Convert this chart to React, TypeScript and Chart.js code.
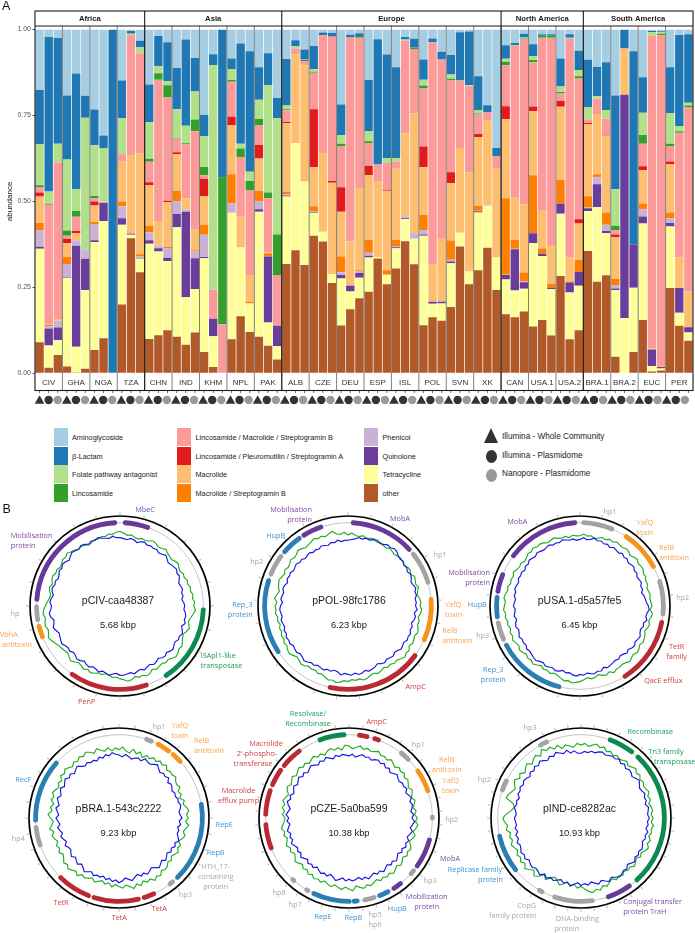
import React, { useEffect, useRef } from "react";
import { Chart, registerables } from "chart.js";
Chart.register(...registerables);

const SANS = '"Liberation Sans", Arial, sans-serif';
const LABEL_FONT = '"Open Sans", sans-serif';

const continents = ["Africa", "Asia", "Europe", "North America", "South America"];
const continentCountryCounts = [4, 5, 8, 3, 4];
const countries = ["CIV","GHA","NGA","TZA","CHN","IND","KHM","NPL","PAK","ALB","CZE","DEU","ESP","ISL","POL","SVN","XK","CAN","USA.1","USA.2","BRA.1","BRA.2","EUC","PER"];
const sequencingPerCountry = ["Illumina - Whole Community", "Illumina - Plasmidome", "Nanopore - Plasmidome"];
const barLabels = countries.flatMap((c) => [c, c, c]);

const other = [.09,.016,.053,.02,.002,.013,.068,.102,0,.2,.393,.294,.1,.111,.125,.106,.083,.119,.062,.018,0,.099,.166,.12,.106,.08,.04,.318,.358,.315,.4,.383,.263,.139,.186,.218,.237,.334,.259,.305,.384,.317,.14,.163,.153,.193,.369,.259,.3,.365,.242,.172,.163,.18,.136,.155,.11,.283,.099,.125,.356,.266,.285,.048,0,.062,.155,.005,.008,.248,.138,.095];
const tetracycline = [.272,.065,.043,.258,.075,.229,.314,.341,0,.232,.01,.039,.277,.243,.202,.319,.138,.126,.273,.09,0,.368,.2,.083,.364,.068,.039,.196,.311,.243,.066,.029,.025,.137,.052,.06,.1,.004,.028,.059,.065,.074,.26,.039,.05,.127,.04,.037,.168,.122,.095,.101,.078,.066,.242,.186,.135,.181,.136,.13,.116,.218,.122,.194,.161,.187,.281,.016,.006,.179,.038,.024];
const quinolone = [.006,.049,.037,.002,.294,.091,.005,.052,0,.019,.003,.002,.01,.01,.009,.038,.249,.09,.003,.051,0,0,0,0,.007,.192,.059,.003,0,0,.002,0,0,.01,.017,.014,.005,0,0,.003,.002,0,.004,.006,.005,.005,0,0,.003,0,0,.013,.12,.019,.029,.007,.004,.029,.029,.04,.008,.066,.007,.005,.649,.126,.02,.048,.004,.01,.072,.015];
const phenicol = [.048,.007,.02,.038,.016,.025,.046,.005,0,.035,.002,.005,.023,.008,.028,.038,.006,.019,.065,0,0,.027,0,0,.023,0,0,.004,0,0,.004,0,.001,.008,.002,.004,.009,0,0,.003,.006,.016,.012,0,.002,.005,0,0,.002,.003,0,.001,.001,.002,.001,0,0,0,0,0,.002,.02,.018,.01,0,0,.021,0,0,.014,0,0];
const macrolideStrepB = [.021,.004,0,.02,0,0,.007,0,0,.014,0,.006,.019,0,.004,.029,0,.004,.029,0,0,.085,0,.005,.03,.009,0,.006,0,0,.014,0,0,.046,0,.004,.037,0,.013,.018,0,0,.045,0,0,.056,0,0,.014,0,0,.222,.026,.026,.168,.015,.011,.069,.003,.035,.033,.009,.036,.017,0,0,.017,0,0,.017,0,0];
const macrolide = [.077,.002,.005,.04,.021,0,.048,0,0,.115,.227,.294,.118,.071,.13,.107,.033,.062,.084,0,0,.143,.09,.078,.095,.003,0,.201,.259,.338,.113,.229,.265,.13,.126,.239,.189,.221,.231,.207,.241,.349,.138,.109,.181,.167,.246,.289,.2,.245,.26,.23,.125,.199,.187,.112,.113,.213,.07,.106,.21,.175,.224,.122,.135,0,.097,.004,.003,.141,.089,.104];
const lincPleuroStrepA = [.012,0,0,.013,.006,0,.012,0,0,0,0,0,.009,0,.004,.006,0,0,.05,0,0,.024,0,0,.039,0,0,.003,0,0,.169,0,.005,.071,0,0,.027,0,.003,0,0,0,.061,0,0,.032,0,0,.009,0,0,.038,0,0,.013,0,0,.017,0,.012,.003,0,.002,.008,0,0,.011,0,0,.007,0,0];
const lincMacStrepB = [.016,.347,.455,.009,.041,0,.009,0,0,.022,.35,.29,.059,.411,.3,.039,.157,.284,.01,.084,.143,.102,.173,.246,.058,.157,.148,.034,.016,.012,.106,.342,.42,.12,.594,.437,.066,.048,.078,.021,.269,.187,.17,.646,.522,.268,.195,.25,.057,.025,.034,.119,.439,.479,.129,.501,.603,.022,.637,.411,.01,.045,.047,.013,0,0,.066,.909,.962,.045,.363,.535];
const lincosamide = [.005,.003,0,.015,.017,0,.007,0,0,0,0,0,.009,.019,.036,.002,.003,.034,.024,0,.427,.005,.025,.027,.018,.017,.118,.003,0,.004,.003,0,.001,.007,0,.005,.005,0,0,0,0,.005,.007,0,0,.004,0,0,.003,0,0,.01,0,.003,.006,.006,.006,.004,0,.005,0,0,0,.012,0,0,.025,0,.005,.007,.004,.006];
const folate = [.119,.036,.055,.207,.064,.385,.147,.154,0,.105,.003,.019,.106,.021,.012,.084,.051,.082,.09,.653,0,.032,.014,.027,.056,.312,.338,.011,.007,.001,.008,0,0,.025,0,0,.03,0,.014,.01,.004,0,.017,0,0,.012,.002,.003,.01,0,0,.009,.003,.003,.012,0,0,.016,.002,.018,.036,.007,.025,.106,0,0,.065,.01,.005,.089,.015,.008];
const betaLactam = [.158,.449,.307,.186,.336,.064,.104,.038,1,.11,.008,.018,.11,.087,.113,.12,.251,.097,.062,.032,.43,.031,.291,.351,.094,.093,.059,.135,.018,.029,.067,.008,.01,.089,.008,.008,.148,.365,.301,.264,.007,.025,.059,.011,.022,.057,.14,.156,.098,.02,.024,.039,.006,.011,.034,.004,.004,.082,.01,.056,.138,.085,.139,.273,.055,.562,.103,.004,.002,.133,.265,.199];
const aminoglycoside = [.177,.023,.025,.192,.128,.193,.234,.308,0,.148,.004,.033,.16,.019,.037,.112,.029,.083,.248,.072,0,.084,.041,.063,.11,.069,.199,.086,.031,.058,.048,.009,.01,.218,.015,.011,.147,.028,.073,.11,.022,.027,.087,.026,.065,.074,.008,.006,.136,.22,.345,.046,.039,.012,.043,.014,.014,.083,.014,.062,.088,.109,.095,.192,0,.063,.139,.004,.005,.11,.016,.014];

const stackOrder = [
  ["other", other, "#b15928"],
  ["Tetracycline", tetracycline, "#ffff99"],
  ["Quinolone", quinolone, "#6a3d9a"],
  ["Phenicol", phenicol, "#cab2d6"],
  ["Macrolide / Streptogramin B", macrolideStrepB, "#ff7f00"],
  ["Macrolide", macrolide, "#fdbf6f"],
  ["Lincosamide / Pleuromutilin / Streptogramin A", lincPleuroStrepA, "#e31a1c"],
  ["Lincosamide / Macrolide / Streptogramin B", lincMacStrepB, "#fb9a99"],
  ["Lincosamide", lincosamide, "#33a02c"],
  ["Folate pathway antagonist", folate, "#b2df8a"],
  ["β-Lactam", betaLactam, "#1f78b4"],
  ["Aminoglycoside", aminoglycoside, "#a6cee3"],
] as [string, number[], string][];

const colorOf = (n: string) => stackOrder.find((s) => s[0] === n)![2];
const legendColumns = [
  ["Aminoglycoside", "β-Lactam", "Folate pathway antagonist", "Lincosamide"],
  ["Lincosamide / Macrolide / Streptogramin B", "Lincosamide / Pleuromutilin / Streptogramin A", "Macrolide", "Macrolide / Streptogramin B"],
  ["Phenicol", "Quinolone", "Tetracycline", "other"],
];

// --- plasmids: gene extents in degrees clockwise from 12 o'clock, coverage rings in % of outer ring radius (one value per 3 degrees)
const cIVGenes = [[2,21],[91,148],[160,216.6],[246.8,257.4],[259,271],[273,358]];
const cIVKinds = ["mob","tn","res","ta","hp","mob"];
const cIVGreen = [83,81,79,80,78,77,79,78,79,81,80,78,79,81,79,78,77,79,80,78,77,79,78,80,79,81,80,82,81,83,82,84,82,80,78,79,81,79,77,78,80,82,81,83,84,82,80,81,79,80,81,79,82,83,81,82,80,83,84,82,81,79,80,78,77,79,78,80,81,79,81,79,78,80,82,80,78,79,80,81,83,85,87,85,84,86,85,84,86,85,83,81,79,78,80,81,79,81,82,80,81,79,80,82,81,83,81,80,78,79,78,76,77,79,78,80,79,81,80,82];
const cIVBlue = [76,75,74,76,75,73,75,76,74,75,74,75,73,74,76,74,72,73,74,75,73,74,72,70,71,72,70,71,69,71,72,71,73,74,73,75,72,74,76,74,75,73,74,76,75,73,75,74,72,74,75,73,74,76,74,75,77,75,76,77,77,75,76,78,76,75,77,75,74,76,75,73,75,76,74,73,75,74,75,77,76,75,74,76,78,76,75,78,79,77,76,78,77,75,77,78,76,77,75,76,78,77,79,78,76,78,80,79,78,80,79,77,79,78,80,78,77,76,78,76];

const pOLGenes = [[2,48.8],[50,75],[83.8,115.5],[125,194],[235.3,289.3],[291,308],[309,325.8],[326.5,342.6]];
const pOLKinds = ["mob","hp","ta","res","rep","hp","rep","mob"];
const pOLGreen = [79,81,79,78,80,78,79,80,78,79,78,77,79,78,77,78,79,78,77,79,80,78,81,80,79,81,79,78,80,81,80,82,81,79,81,80,82,83,81,82,83,81,84,83,85,83,81,82,80,81,79,81,82,80,81,83,84,82,83,82,84,83,85,86,84,85,83,81,82,80,81,80,82,83,81,80,82,84,83,81,82,80,81,79,80,78,80,79,81,80,81,79,82,80,78,80,81,82,80,79,81,79,80,82,80,81,83,82,80,81,82,84,82,83,81,83,85,81,80,82];
const pOLBlue = [73,74,75,77,76,78,77,79,80,78,79,81,80,82,81,79,78,79,77,78,76,78,77,75,76,78,76,77,75,76,75,77,74,76,75,73,75,74,76,75,76,74,75,76,74,73,75,74,73,75,74,72,74,75,76,74,76,77,75,77,76,75,77,74,73,75,74,76,75,74,76,75,77,78,76,75,77,76,75,77,76,77,75,76,74,75,76,74,75,76,75,73,75,74,73,75,74,72,74,73,74,72,73,74,72,73,71,72,73,71,72,71,73,72,71,73,72,74,72,73];

const uSAGenes = [[1,24],[32,63.3],[71.3,97],[99.8,149],[193,243.5],[245,259.8],[261,277.6],[278.5,293.6],[305.5,358]];
const uSAKinds = ["hp","ta","hp","res","rep","hp","rep","mob","mob"];
const uSAGreen = [78,80,78,79,77,78,80,79,81,80,82,81,80,82,81,79,81,82,80,81,81,79,80,78,79,77,78,79,78,79,80,78,81,80,78,80,79,77,79,80,81,79,81,82,80,81,83,81,80,81,81,83,80,82,81,79,81,82,80,82,84,85,86,84,85,83,81,80,82,80,81,79,81,83,81,82,80,82,83,81,82,84,82,83,81,83,82,84,83,85,84,83,85,84,82,83,81,82,81,83,81,80,81,79,80,82,81,83,81,82,81,79,80,81,79,78,79,77,79,78];
const uSABlue = [74,76,74,75,77,75,76,74,75,73,75,74,73,75,73,74,72,73,74,72,73,71,72,73,71,72,70,72,73,74,76,77,75,74,76,73,74,72,73,75,74,73,75,74,72,74,72,71,73,72,73,74,75,73,76,75,77,76,75,77,76,78,77,75,76,74,76,77,75,76,77,75,76,78,77,76,75,76,74,75,74,76,74,73,75,74,72,74,73,72,74,73,72,74,73,75,74,73,75,74,75,73,75,74,76,75,74,76,75,74,75,76,74,75,74,76,75,74,75,73];

const bRAGenes = [[17.8,24.3],[26.4,38],[39,48.8],[79,137],[138.5,143.8],[153.8,164],[165,199],[199.8,226],[249.5,265],[267,312.8]];
const bRAKinds = ["hp","ta","ta","rep","hp","res","res","res","hp","rep"];
const bRAGreen = [76,79,75,73,78,74,77,72,76,74,77,75,78,76,79,75,77,76,78,75,74,76,72,74,71,75,73,76,78,75,77,74,78,75,73,76,74,71,75,73,76,74,72,75,73,76,77,75,79,77,80,76,78,75,79,76,80,77,75,78,76,74,77,73,75,72,74,76,73,75,77,75,79,76,78,80,77,79,76,74,77,74,76,73,75,77,74,78,75,73,76,79,75,77,74,78,76,79,77,75,78,76,80,78,81,79,77,80,78,81,79,82,80,77,81,78,76,79,75,78];
const bRABlue = [70,68,71,69,67,69,70,68,72,70,69,71,73,70,68,70,69,71,67,69,68,66,68,67,69,68,70,69,67,68,70,67,69,66,68,67,69,71,68,70,67,69,66,68,70,67,69,71,68,66,68,70,67,69,66,68,71,69,67,70,72,69,71,68,70,67,69,68,70,67,69,71,68,66,69,67,65,68,66,64,65,67,64,66,68,65,67,69,66,68,70,67,69,71,68,70,72,69,71,73,70,72,74,71,73,70,72,74,71,69,71,69,70,68,71,69,72,70,73,71];

const cZEGenes = [[5.6,14],[16.4,22.3],[37.4,46.9],[54,72.5],[87.8,91.6],[103.7,126.7],[127.7,133.4],[140.3,149],[150.6,160],[161,170.5],[172.8,178],[178.2,206.5],[208,212],[219.8,224],[247.4,267],[271,290.7],[292,306.5],[307.5,325],[338,358.2]];
const cZEKinds = ["res","res","hp","ta","hp","mob","hp","mob","rep","hp","rep","rep","hp","hp","res","res","res","res","tn"];
const cZEGreen = [80,77,79,81,78,80,78,79,81,78,79,77,80,78,76,79,77,79,76,78,76,74,77,75,73,76,74,72,75,73,76,74,77,75,73,76,74,72,75,77,75,77,74,76,78,75,77,79,76,78,76,78,75,77,79,77,80,78,76,81,79,77,80,78,76,79,77,75,78,76,78,75,77,74,76,73,75,77,74,72,75,73,76,74,72,75,73,76,74,72,71,74,72,75,73,76,74,72,75,77,74,76,78,75,77,79,76,78,75,77,79,76,78,75,78,80,77,79,76,81];
const cZEBlue = [69,71,68,70,72,70,71,69,71,72,70,72,69,71,68,70,72,70,69,71,70,72,69,71,73,70,72,71,69,72,70,73,71,69,72,70,68,71,69,71,68,70,67,69,71,68,70,67,69,71,68,70,67,69,71,68,70,67,69,70,68,70,67,69,71,68,66,69,67,69,67,65,68,66,68,65,67,69,66,68,66,68,70,67,69,67,70,68,66,69,67,70,68,66,69,71,68,70,67,69,71,68,70,72,69,71,68,70,72,70,68,71,69,72,70,68,71,69,71,70];

const iNDGenes = [[18.9,39],[41.5,139.5],[143,162.4],[170.7,200],[206.3,211.5],[230,259],[288,297.9],[329.4,337.3]];
const iNDKinds = ["tn","tn","mob","hp","hp","rep","hp","hp"];
const iNDGreen = [81,83,80,82,84,81,83,79,81,78,80,78,79,81,78,80,82,79,81,78,80,78,79,81,78,80,77,79,80,78,80,78,81,79,80,78,81,79,82,80,77,79,76,78,80,77,78,76,79,77,79,76,78,81,79,83,81,84,82,79,76,78,74,77,73,76,78,74,72,75,79,75,80,83,78,81,84,80,83,80,82,79,81,83,80,82,80,84,82,85,87,83,78,75,77,86,85,82,80,83,85,81,84,80,83,85,81,84,86,82,88,84,86,82,85,80,83,81,79,83];
const iNDBlue = [72,74,73,75,74,76,77,75,76,77,76,78,75,77,74,76,75,73,75,77,75,73,74,76,74,75,73,76,75,74,76,74,75,73,76,74,75,73,75,76,74,76,74,77,75,73,76,75,77,78,76,74,77,75,73,76,74,72,75,73,75,72,74,76,73,75,72,74,76,74,77,74,78,76,75,77,76,74,77,75,77,75,74,76,73,75,72,74,72,73,74,72,73,75,73,74,72,75,74,76,74,76,75,73,76,74,77,75,78,76,74,77,75,78,76,74,77,73,75,72];

const arcColor: Record<string, string> = { mob: "#68389a", tn: "#0d8a50", res: "#bb2a33", ta: "#f7941d", hp: "#a3a3a3", rep: "#2b7eb4" };
const textColor: Record<string, string> = { mob: "#7b4aa6", tn: "#17a05c", res: "#d03c40", ta: "#f9a24c", hp: "#a8a8a8", rep: "#3f93d2" };

const plasmids = [
  { name: "pCIV-caa48387", size: "5.68 kbp", genes: cIVGenes, kinds: cIVKinds, green: cIVGreen, blue: cIVBlue, cx: 119.7, cy: 606, ticks: 24, tx: 118, ty: 599.5, sy: 623.5 },
  { name: "pPOL-98fc1786", size: "6.23 kbp", genes: pOLGenes, kinds: pOLKinds, green: pOLGreen, blue: pOLBlue, cx: 348.3, cy: 606, ticks: 25, tx: 349, ty: 599.5, sy: 623.5 },
  { name: "pUSA.1-d5a57fe5", size: "6.45 kbp", genes: uSAGenes, kinds: uSAKinds, green: uSAGreen, blue: uSABlue, cx: 580.3, cy: 606.3, ticks: 26, tx: 579.5, ty: 599.5, sy: 623.5 },
  { name: "pBRA.1-543c2222", size: "9.23 kbp", genes: bRAGenes, kinds: bRAKinds, green: bRAGreen, blue: bRABlue, cx: 119.2, cy: 818.3, ticks: 36, tx: 118.5, ty: 808, sy: 832 },
  { name: "pCZE-5a0ba599", size: "10.38 kbp", genes: cZEGenes, kinds: cZEKinds, green: cZEGreen, blue: cZEBlue, cx: 349.3, cy: 818.3, ticks: 42, tx: 349, ty: 808, sy: 832 },
  { name: "pIND-ce8282ac", size: "10.93 kbp", genes: iNDGenes, kinds: iNDKinds, green: iNDGreen, blue: iNDBlue, cx: 580.7, cy: 818.3, ticks: 44, tx: 579.5, ty: 808, sy: 832 },
];

type Ann = [string, string, number, number, ("l" | "c" | "r")?];
const annotations: Ann[] = [
  ["MbeC","mob",145,509.3],["Mobilisation\nprotein","mob",10.7,539.7,"l"],["hp","hp",15,613],["VbhA\n antitoxin","ta",0,638.7,"l"],["ISApl1-like\ntransposase","tn",200.7,659.7,"l"],["PenP","res",86.7,701],
  ["Mobilisation\nprotein","mob",312,514,"r"],["MobA","mob",400,518.3],["hp1","hp",440,554],["HupB","rep",275.7,534.7],["hp2","hp",256.7,561],["Rep_3\nprotein","rep",252.7,609,"r"],["YafQ\ntoxin","ta",445,609,"l"],["RelB\nantitoxin","ta",442.3,635,"l"],["AmpC","res",415.7,686],
  ["hp1","hp",610,510.7],["MobA","mob",517.3,521.3],["YafQ\ntoxin","ta",645,527],["RelB\nantitoxin","ta",659,552.3,"l"],["hp2","hp",682.7,596.7],["Mobilisation\nprotein","mob",490,577,"r"],["HupB","rep",477.3,603.7],["hp3","hp",482.7,635],["TetR\nfamily","res",676.7,651.3],["Rep_3\nprotein","rep",493.3,673.7],["QacE efflux","res",663.3,680],
  ["hp1","hp",159,725.7],["YafQ\ntoxin","ta",180,730.3],["RelB\nantitoxin","ta",194,745.3,"l"],["RecF","rep",23.3,779.3],["RepE","rep",224.3,824],["RepB","rep",215.7,852.3],["HTH_17-\ncontaining\nprotein","hp",215.7,876.3],["hp4","hp",18.3,838.3],["hp3","hp",185.3,894.3],["TetR","res",61,902.3],["TetA","res",159.3,907.7],["TetA","res",119.3,917],
  ["Resolvase/\nRecombinase","tn",308,718],["AmpC","res",376.7,721],["hp1","hp",418.3,744.3],["RelB\nantitoxin","ta",446.7,764.3],["YafQ\ntoxin","ta",450.7,785.3],["hp2","hp",451.7,819],["MobA","mob",450,858.3],["hp3","hp",430,880],["Mobilization\nprotein","mob",426.7,901],["HupB","rep",397.3,907.7],["hp5\nhp6","hp",375,919],["RepB","rep",353.3,917],["RepE","rep",323,916],["hp7","hp",295,904],["hp8","hp",279,891.7],["Macrolide","res",266,742.7],["2'-phospho-","res",257,752.7],["transferase","res",253,762.7],["Macrolide\nefflux pump","res",238.5,795],
  ["hp3","hp",530,727.3],["Recombinase","tn",650.3,731],["Tn3 family","tn",666,750.7],["transposase","tn",674.7,760.7],["hp2","hp",484.3,779.3],["Replicase family","rep",475,869],["protein","rep",490.5,879],["CopG","hp",526.7,905.3],["family protein","hp",512.7,915.3],["DNA-binding","hp",577.3,917.7],["protein","hp",566.7,927.7],["Conjugal transfer\nprotein TraH","mob",623.3,906.4,"l"],
];

const facetPlugin = {
  id: "facets",
  afterDatasetsDraw(chart: any) {
    const { ctx, scales } = chart;
    const x = scales.x;
    const top = 11, stripBottom = 26, bottom = 390.5;
    const step = x.getPixelForValue(1) - x.getPixelForValue(0);
    const edge = (barIndex: number) => x.getPixelForValue(0) - step / 2 + step * barIndex;
    ctx.save();
    ctx.fillStyle = "#fff";
    ctx.fillRect(edge(0), top, edge(72) - edge(0), stripBottom - top);
    ctx.strokeStyle = "#333";
    ctx.lineWidth = 0.7;
    barLabels.forEach((_, i) => {
      const p = x.getPixelForValue(i);
      ctx.beginPath(); ctx.moveTo(p, bottom); ctx.lineTo(p, bottom + 2.5); ctx.stroke();
    });
    ctx.strokeStyle = "#808080";
    ctx.lineWidth = 1;
    countries.forEach((_, i) => {
      if (i === 0) return;
      const p = edge(i * 3);
      ctx.beginPath(); ctx.moveTo(p, stripBottom); ctx.lineTo(p, bottom); ctx.stroke();
    });
    ctx.strokeStyle = "#1a1a1a";
    ctx.lineWidth = 1.1;
    ctx.strokeRect(edge(0), top, edge(72) - edge(0), bottom - top);
    ctx.beginPath(); ctx.moveTo(edge(0), stripBottom); ctx.lineTo(edge(72), stripBottom); ctx.stroke();
    let c = 0;
    ctx.font = `bold 7.7px ${SANS}`;
    ctx.textAlign = "center";
    ctx.textBaseline = "middle";
    continents.forEach((name, i) => {
      const next = c + continentCountryCounts[i];
      const l = edge(c * 3), r = edge(next * 3);
      ctx.fillStyle = "#1a1a1a";
      ctx.fillText(name, (l + r) / 2, (top + stripBottom) / 2 + 0.5);
      if (i > 0) { ctx.beginPath(); ctx.moveTo(l, top); ctx.lineTo(l, bottom); ctx.stroke(); }
      c = next;
    });
    ctx.restore();
  },
};

function BarPanel() {
  const ref = useRef<HTMLCanvasElement>(null);
  useEffect(() => {
    const chart = new Chart(ref.current!, {
      type: "bar",
      data: {
        labels: barLabels,
        datasets: stackOrder.map(([label, data, color]) => ({ label, data, backgroundColor: color, borderWidth: 0, barPercentage: 0.92, categoryPercentage: 1 })),
      },
      options: {
        animation: false, responsive: false,
        layout: { padding: { top: 29.5, right: 2, left: 0, bottom: 0 } },
        plugins: { legend: { display: false }, tooltip: { enabled: false } },
        scales: {
          x: {
            stacked: true,
            grid: { display: false, drawTicks: false },
            border: { display: false },
            afterFit: (s: any) => { s.height = 46.7; },
            ticks: {
              autoSkip: false, maxRotation: 0, minRotation: 0, padding: 5,
              font: { family: SANS, size: 8 }, color: "#333",
              callback: (_v: any, i: number) => (i % 3 === 1 ? barLabels[i] : ""),
            },
          },
          y: {
            stacked: true, min: 0, max: 1,
            afterFit: (s: any) => { s.width = 35; },
            border: { display: false },
            grid: { drawOnChartArea: false, drawTicks: true, tickLength: 2.5, color: "#555" },
            title: { display: true, text: "abundance", font: { family: SANS, size: 8 }, color: "#111", padding: { top: 5, bottom: 0 } },
            ticks: { stepSize: 0.25, padding: 1.5, font: { family: SANS, size: 7 }, color: "#555", callback: (v: any) => Number(v).toFixed(2) },
          },
        },
      },
      plugins: [facetPlugin],
    } as any);
    return () => chart.destroy();
  }, []);
  return <canvas ref={ref} width={695} height={420} style={{ position: "absolute", left: 0, top: 0 }} />;
}

function MarkerRow() {
  const ref = useRef<HTMLCanvasElement>(null);
  useEffect(() => {
    const row = (k: number, v: number) => barLabels.map((_, i) => (i % 3 === k ? v : null));
    const chart = new Chart(ref.current!, {
      type: "line",
      data: {
        labels: barLabels,
        datasets: [
          { label: sequencingPerCountry[0], data: row(0, 0.6), showLine: false, pointStyle: "triangle", pointRadius: 5.6, backgroundColor: "#333", borderWidth: 0 },
          { label: sequencingPerCountry[1], data: row(1, 0.5), showLine: false, pointStyle: "circle", pointRadius: 4.2, backgroundColor: "#333", borderWidth: 0 },
          { label: sequencingPerCountry[2], data: row(2, 0.5), showLine: false, pointStyle: "circle", pointRadius: 4.2, backgroundColor: "#999", borderWidth: 0 },
        ],
      },
      options: {
        animation: false, responsive: false,
        layout: { padding: { left: 35, right: 2, top: 0, bottom: 0 } },
        plugins: { legend: { display: false }, tooltip: { enabled: false } },
        scales: { x: { display: false, offset: true }, y: { display: false, min: 0, max: 1, reverse: true } },
      },
    } as any);
    return () => chart.destroy();
  }, []);
  return <canvas ref={ref} width={695} height={20} style={{ position: "absolute", left: 0, top: 390 }} />;
}

function Plasmid({ p }: { p: (typeof plasmids)[number] }) {
  const arcs = useRef<HTMLCanvasElement>(null);
  const rings = useRef<HTMLCanvasElement>(null);
  useEffect(() => {
    const spans: number[] = [];
    const fills: string[] = [];
    let pos = 0;
    p.genes.forEach(([s, e], i) => {
      spans.push(s - pos, e - s);
      fills.push("rgba(0,0,0,0)", arcColor[p.kinds[i]]);
      pos = e;
    });
    spans.push(360 - pos);
    fills.push("rgba(0,0,0,0)");
    const doughnut = new Chart(arcs.current!, {
      type: "doughnut",
      data: { labels: spans.map((_, i) => String(i)), datasets: [{ data: spans, backgroundColor: fills, borderWidth: 0, borderRadius: 2 }] },
      options: {
        animation: false, responsive: false, radius: 85.8, cutout: "94.4%",
        plugins: { legend: { display: false }, tooltip: { enabled: false } },
      },
    } as any);
    const tickPlugin = {
      id: "ringTicks",
      afterDatasetsDraw(chart: any) {
        const r = chart.scales.r;
        const { ctx } = chart;
        ctx.save();
        for (let i = 0; i < p.ticks; i++) {
          const a = (i / p.ticks) * Math.PI * 2;
          const s = Math.sin(a), c = Math.cos(a);
          ctx.strokeStyle = "#888";
          ctx.lineWidth = 0.6;
          ctx.beginPath();
          ctx.moveTo(r.xCenter + s * r.drawingArea, r.yCenter - c * r.drawingArea);
          ctx.lineTo(r.xCenter + s * (r.drawingArea + 2.4), r.yCenter - c * (r.drawingArea + 2.4));
          ctx.stroke();
          ctx.strokeStyle = "#c6c6c6";
          ctx.lineWidth = 1.5;
          ctx.beginPath();
          ctx.moveTo(r.xCenter + s * (r.drawingArea + 2.4), r.yCenter - c * (r.drawingArea + 2.4));
          ctx.lineTo(r.xCenter + s * (r.drawingArea + 3.8), r.yCenter - c * (r.drawingArea + 3.8));
          ctx.stroke();
        }
        ctx.restore();
      },
    };
    const radar = new Chart(rings.current!, {
      type: "radar",
      data: {
        labels: p.green.map((_, i) => String(i * 3)),
        datasets: [
          { label: "blue", data: p.blue, borderColor: "#1616e4", borderWidth: 1.15, pointRadius: 0, fill: false, tension: 0 },
          { label: "green", data: p.green, borderColor: "#20ae20", borderWidth: 1.15, pointRadius: 0, fill: false, tension: 0 },
        ],
      },
      options: {
        animation: false, responsive: false,
        layout: { padding: 10 },
        plugins: { legend: { display: false }, tooltip: { enabled: false } },
        scales: {
          r: {
            min: 0, max: 100,
            angleLines: { display: false },
            pointLabels: { display: false },
            ticks: { display: false },
            afterBuildTicks: (s: any) => { s.ticks = [{ value: 0 }, { value: 92.6 }, { value: 100 }]; },
            grid: {
              circular: true,
              color: (c: any) => (c.tick && c.tick.value === 100 ? "#000" : "#bdbdbd"),
              lineWidth: (c: any) => (c.tick && c.tick.value === 100 ? 1.7 : 0.9),
            },
          },
        },
      },
      plugins: [tickPlugin],
    } as any);
    return () => { doughnut.destroy(); radar.destroy(); };
  }, []);
  const style: React.CSSProperties = { position: "absolute", left: p.cx - 100, top: p.cy - 100 };
  const center = (text: string, x: number, y: number, size: number): React.ReactElement => (
    <div style={{ position: "absolute", left: x, top: y, transform: "translate(-50%,-50%)", font: `${size}px ${SANS}`, color: "#222", whiteSpace: "nowrap" }}>{text}</div>
  );
  return (
    <>
      <canvas ref={rings} width={200} height={200} style={style} />
      <canvas ref={arcs} width={200} height={200} style={style} />
      {center(p.name, p.tx, p.ty, 10.5)}
      {center(p.size, p.tx, p.sy, 9.4)}
    </>
  );
}

function Legend() {
  const columnX = [54, 177, 364];
  const textX = [72, 195.5, 382.5];
  const rowY = [428, 446.7, 465.4, 484.1];
  const seqY = [436, 454.5, 473];
  return (
    <>
      {legendColumns.map((col, c) =>
        col.map((name, r) => (
          <React.Fragment key={name}>
            <div style={{ position: "absolute", left: columnX[c], top: rowY[r], width: 13.5, height: 18, background: colorOf(name) }} />
            <div style={{ position: "absolute", left: textX[c], top: rowY[r] + 9, transform: "translateY(-50%)", font: `7.3px ${SANS}`, color: "#222", whiteSpace: "nowrap" }}>{name}</div>
          </React.Fragment>
        ))
      )}
      {sequencingPerCountry.map((name, i) => (
        <React.Fragment key={name}>
          {i === 0 ? (
            <div style={{ position: "absolute", left: 484, top: 428, width: 0, height: 0, borderLeft: "7px solid transparent", borderRight: "7px solid transparent", borderBottom: "15px solid #333" }} />
          ) : (
            <div style={{ position: "absolute", left: 485.5, top: seqY[i] - 4.5, width: 11, height: 13, borderRadius: "50%", background: i === 1 ? "#333" : "#999" }} />
          )}
          <div style={{ position: "absolute", left: 502, top: seqY[i], transform: "translateY(-50%)", font: `8.2px ${SANS}`, color: "#222", whiteSpace: "nowrap" }}>{name}</div>
        </React.Fragment>
      ))}
    </>
  );
}

export default function App() {
  const tr = { l: "translate(0,-50%)", c: "translate(-50%,-50%)", r: "translate(-100%,-50%)" };
  return (
    <div style={{ position: "absolute", left: 0, top: 0, width: 695, height: 933, overflow: "hidden", background: "#fff" }}>
      <BarPanel />
      <MarkerRow />
      <Legend />
      {plasmids.map((p) => <Plasmid key={p.name} p={p} />)}
      {annotations.map(([text, kind, x, y, align], i) => (
        <div key={i} style={{ position: "absolute", left: x, top: y, transform: tr[align || "c"], font: `7.3px/10px ${LABEL_FONT}`, color: textColor[kind], whiteSpace: "pre", textAlign: align === "l" ? "left" : align === "r" ? "right" : "center" }}>{text}</div>
      ))}
      <div style={{ position: "absolute", left: 2, top: -1, font: `12.5px ${SANS}`, color: "#111" }}>A</div>
      <div style={{ position: "absolute", left: 2.5, top: 502, font: `12.5px ${SANS}`, color: "#111" }}>B</div>
    </div>
  );
}
